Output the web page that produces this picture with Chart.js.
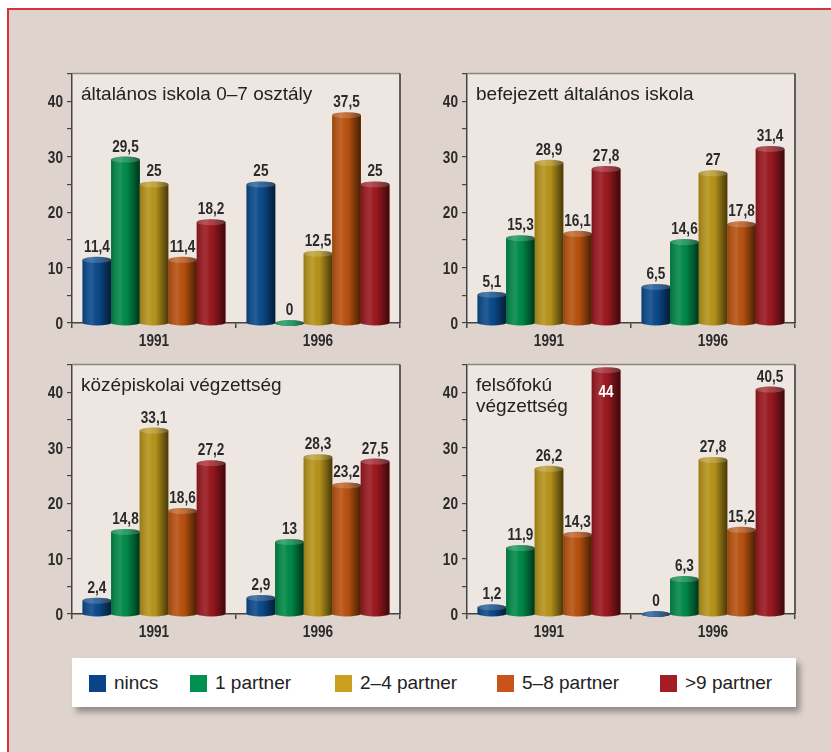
<!DOCTYPE html>
<html>
<head>
<meta charset="utf-8">
<script src="https://cdn.jsdelivr.net/npm/chart.js@4"></script>
<style>
  body { margin: 0; background: #fff; overflow: hidden; }
  #page {
    position: absolute; left: 7px; top: 8px; width: 830px; height: 744px;
    background: #dfd4cd; border-top: 2px solid #d8323a; border-left: 2px solid #d8323a;
  }
  .panel { position: absolute; width: 390px; height: 293px; }
  #legend {
    position: absolute; left: 72px; top: 658px; width: 724px; height: 49px;
    background: #fff; box-shadow: 4px 5px 6px rgba(0,0,0,0.35);
    font-family: "Liberation Sans", Arial, sans-serif; font-size: 19px; color: #222;
  }
  .item { position: absolute; top: 16px; display: flex; align-items: center; height: 18px; }
  .item span.sw { width: 17px; height: 17px; margin-right: 8px; display: inline-block; }
</style>
</head>
<body>
<div id="page"></div>
<div class="panel" style="left:20px;top:60px"><canvas id="c1"></canvas></div>
<div class="panel" style="left:415px;top:60px"><canvas id="c2"></canvas></div>
<div class="panel" style="left:20px;top:351px"><canvas id="c3"></canvas></div>
<div class="panel" style="left:415px;top:351px"><canvas id="c4"></canvas></div>
<div id="legend"></div>
<script>
// data
var years = ["1991", "1996"];
var seriesNames = ["nincs", "1 partner", "2–4 partner", "5–8 partner", ">9 partner"];
var barColors = ["#0b4a8c", "#008a48", "#b8941a", "#b9520f", "#9b1820"];
var legendColors = ["#0a4488", "#00904f", "#c9a020", "#c8541a", "#a51d24"];
var legendLeft = [17, 118, 263, 425, 588];
var yTicks = [0, 10, 20, 30, 40];

var titles1 = ["általános iskola 0–7 osztály"];
var values1 = [[11.4, 25], [29.5, 0], [25, 12.5], [11.4, 37.5], [18.2, 25]];

var titles2 = ["befejezett általános iskola"];
var values2 = [[5.1, 6.5], [15.3, 14.6], [28.9, 27], [16.1, 17.8], [27.8, 31.4]];

var titles3 = ["középiskolai végzettség"];
var values3 = [[2.4, 2.9], [14.8, 13], [33.1, 28.3], [18.6, 23.2], [27.2, 27.5]];

var titles4 = ["felsőfokú", "végzettség"];
var values4 = [[1.2, 0], [11.9, 6.3], [26.2, 27.8], [14.3, 15.2], [44, 40.5]];

var numFont = "bold 17px 'Liberation Sans', Arial, sans-serif";

// condensed text: squeeze Liberation Sans horizontally
function narrowText(ctx, txt, x, y, align, color) {
  ctx.save();
  ctx.font = numFont;
  ctx.fillStyle = color;
  ctx.textAlign = align;
  ctx.textBaseline = "alphabetic";
  ctx.translate(x, y);
  ctx.scale(0.8, 1);
  ctx.fillText(txt, 0, 0);
  ctx.restore();
}

// plot background + frame top/right + axis labels
var frame = {
  id: "frame",
  beforeDraw(chart) {
    var a = chart.chartArea, ctx = chart.ctx;
    ctx.save();
    ctx.fillStyle = "#ede6e1";
    ctx.fillRect(a.left, a.top, a.right - a.left, a.bottom - a.top);
    ctx.restore();
  },
  afterDraw(chart) {
    var a = chart.chartArea, ctx = chart.ctx;
    ctx.save();
    ctx.lineWidth = 1.5;
    ctx.strokeStyle = "#8c8682";
    ctx.beginPath(); ctx.moveTo(a.left, a.top); ctx.lineTo(a.right, a.top); ctx.stroke();
    ctx.strokeStyle = "#333";
    ctx.beginPath(); ctx.moveTo(a.right, a.top); ctx.lineTo(a.right, a.bottom); ctx.stroke();
    ctx.restore();
    var ys = chart.scales.y, xs = chart.scales.x;
    yTicks.forEach(function (v) {
      narrowText(ctx, String(v), a.left - 9, ys.getPixelForValue(v) + 6, "right", "#2a2a2a");
    });
    years.forEach(function (lab, i) {
      narrowText(ctx, lab, xs.getPixelForValue(i), a.bottom + 23, "center", "#2a2a2a");
    });
  }
};

// cylinder look + value labels
var cylinder = {
  id: "cylinder",
  afterDatasetsDraw(chart) {
    var ctx = chart.ctx;
    chart.data.datasets.forEach(function (ds, i) {
      var meta = chart.getDatasetMeta(i);
      meta.data.forEach(function (bar, j) {
        var w = bar.width, x0 = bar.x - w / 2, top = bar.y, base = bar.base;
        var rx = w / 2, ry = 3;
        var g = ctx.createLinearGradient(x0, 0, x0 + w, 0);
        g.addColorStop(0, "rgba(0,0,0,0.18)");
        g.addColorStop(0.33, "rgba(255,255,255,0.10)");
        g.addColorStop(0.55, "rgba(0,0,0,0.02)");
        g.addColorStop(1, "rgba(0,0,0,0.62)");
        ctx.save();
        ctx.beginPath();
        ctx.moveTo(x0, top);
        ctx.lineTo(x0, base);
        ctx.ellipse(bar.x, base, rx, ry, 0, Math.PI, 0, true);
        ctx.lineTo(x0 + w, top);
        ctx.closePath();
        ctx.fillStyle = ds.backgroundColor;
        ctx.fill();
        ctx.fillStyle = g;
        ctx.fill();
        // top cap
        ctx.beginPath();
        ctx.ellipse(bar.x, top, rx, ry, 0, 0, Math.PI * 2);
        ctx.fillStyle = ds.backgroundColor;
        ctx.fill();
        ctx.fillStyle = g;
        ctx.fill();
        ctx.fillStyle = "rgba(255,255,255,0.18)";
        ctx.fill();
        ctx.restore();

        // label
        var txt = String(ds.data[j]).replace(".", ",");
        if (top - 24 < chart.chartArea.top) {
          narrowText(ctx, txt, bar.x, top + 27, "center", "#fff");
        } else {
          narrowText(ctx, txt, bar.x, top - 8, "center", "#2a2a2a");
        }
      });
    });
  }
};

var panelTitle = {
  id: "panelTitle",
  afterDraw(chart, args, opts) {
    var a = chart.chartArea, ctx = chart.ctx;
    ctx.save();
    ctx.font = "19px 'Liberation Sans', Arial, sans-serif";
    ctx.fillStyle = "#222";
    ctx.textAlign = "left";
    opts.lines.forEach(function (t, k) {
      ctx.fillText(t, a.left + 9, a.top + 26 + k * 21);
    });
    ctx.restore();
  }
};

function makeChart(id, titles, values) {
  var datasets = seriesNames.map(function (name, i) {
    return {
      label: name,
      data: values[i],
      backgroundColor: barColors[i],
      borderWidth: 0,
      categoryPercentage: 0.87,
      barPercentage: 1.0
    };
  });
  return new Chart(document.getElementById(id), {
    type: "bar",
    data: { labels: years, datasets: datasets },
    plugins: [frame, cylinder, panelTitle],
    options: {
      responsive: true,
      maintainAspectRatio: false,
      animation: false,
      layout: { padding: { left: 0, right: 10, top: 12, bottom: 0 } },
      plugins: {
        legend: { display: false },
        title: { display: false },
        tooltip: { enabled: false },
        panelTitle: { lines: titles }
      },
      scales: {
        x: {
          grid: { offset: true, drawOnChartArea: false, drawTicks: true, tickLength: 5, color: "#444", lineWidth: 1.5 },
          border: { display: true, color: "#444", width: 1.5 },
          ticks: { color: "rgba(0,0,0,0)", font: { size: 16 }, padding: 4 },
          afterFit: function (s) { s.height = 30; }
        },
        y: {
          min: 0,
          max: 45,
          grid: { drawOnChartArea: false, drawTicks: true, tickLength: 5, color: "#444", lineWidth: 1.2 },
          border: { display: true, color: "#444", width: 1.5 },
          ticks: { stepSize: 5, color: "rgba(0,0,0,0)", font: { size: 16 }, padding: 4 },
          afterFit: function (s) { s.width = 52; }
        }
      }
    }
  });
}

makeChart("c1", titles1, values1);
makeChart("c2", titles2, values2);
makeChart("c3", titles3, values3);
makeChart("c4", titles4, values4);

// legend
var legend = document.getElementById("legend");
seriesNames.forEach(function (name, i) {
  var d = document.createElement("div");
  d.className = "item";
  d.style.left = legendLeft[i] + "px";
  d.innerHTML = '<span class="sw" style="background:' + legendColors[i] + '"></span>' + name.replace(">", "&gt;");
  legend.appendChild(d);
});
</script>
</body>
</html>
